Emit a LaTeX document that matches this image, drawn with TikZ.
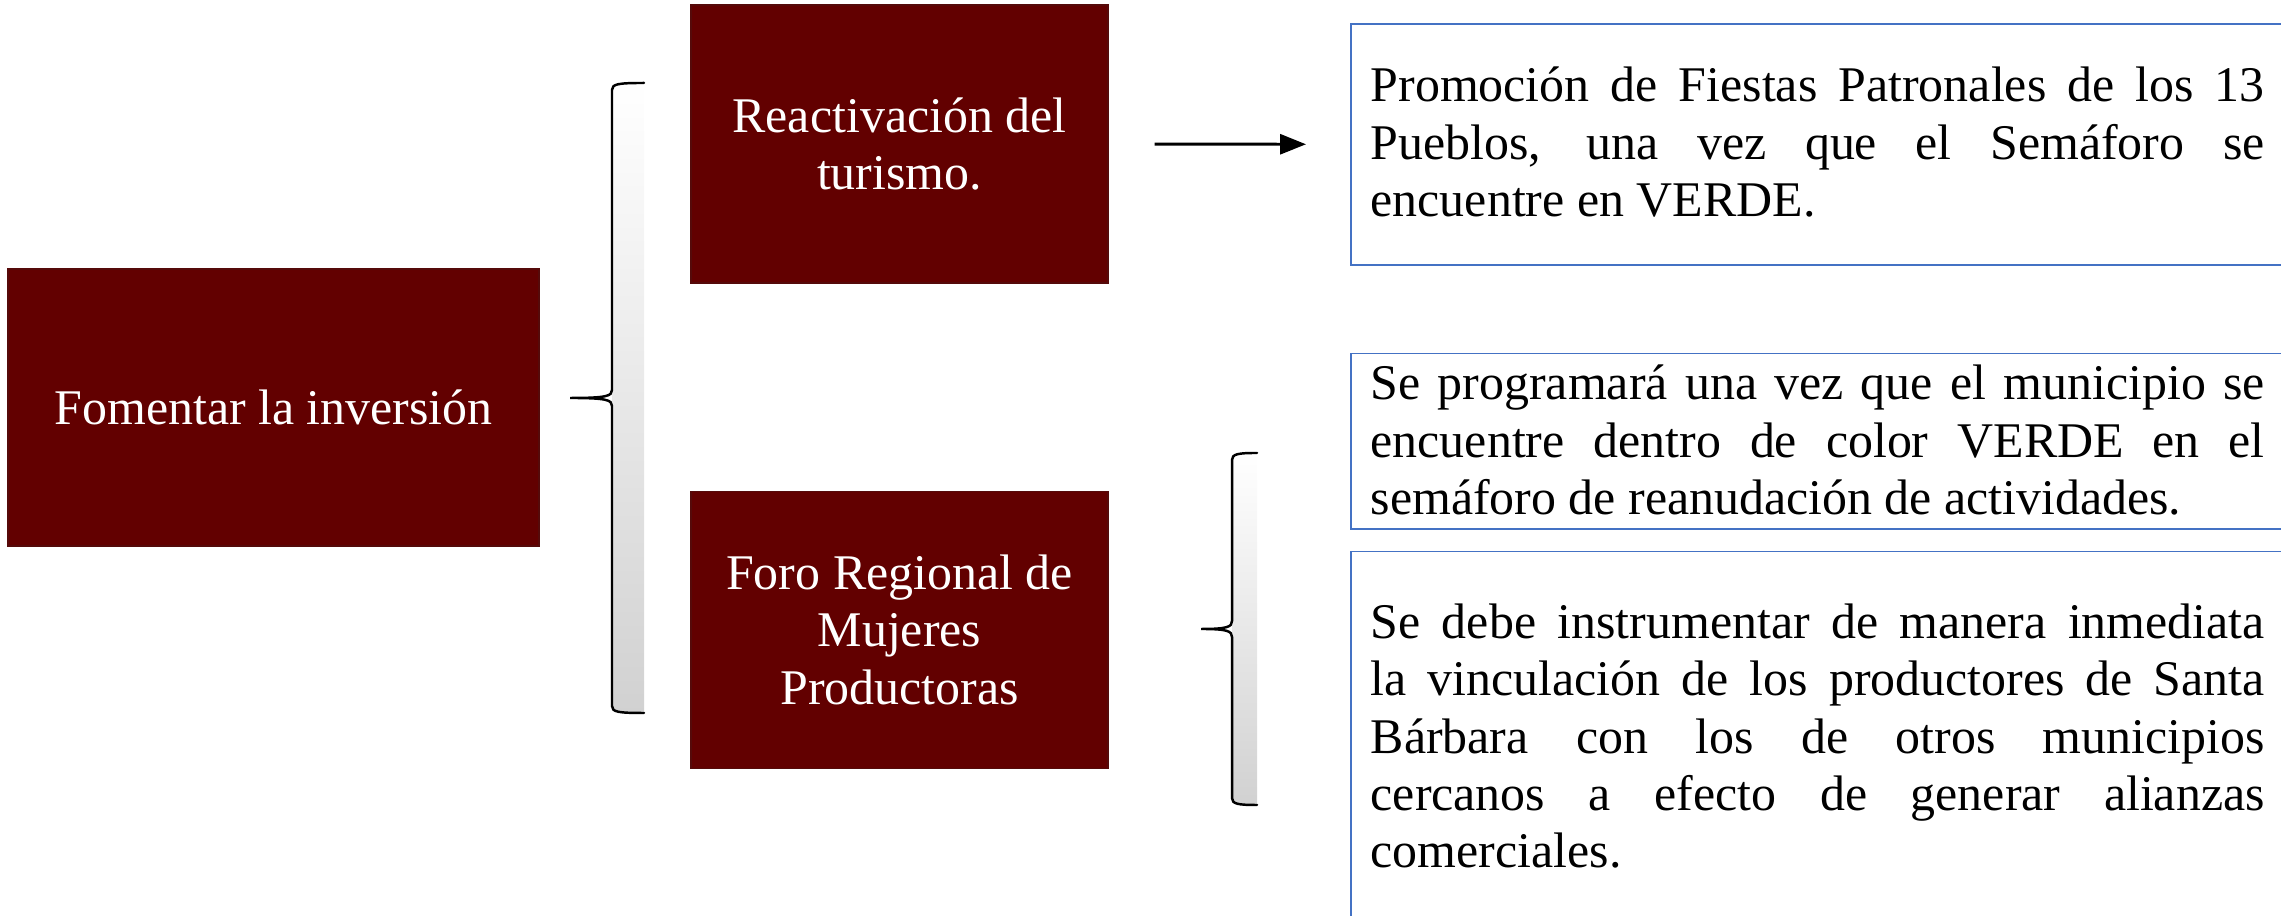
\documentclass[tikz,border=0pt]{standalone}
\usepackage{fontspec}
\setmainfont{Liberation Serif}
\usepackage{xcolor}
\definecolor{vino}{RGB}{98,0,0}
\definecolor{vino-borde}{RGB}{85,10,10}
\definecolor{azul-borde}{RGB}{68,114,196}
\usetikzlibrary{positioning, arrows.meta, calc}
\tolerance=10000
\hyphenpenalty=10000

% llave: x linea, x punta derecha, x punta izquierda, y arriba, y medio, y abajo
\newcommand{\llave}[6]{%
  \shade[sombra] (#2,#4) .. controls ({#1+0.06},#4) and (#1,{#4-0.01}) .. (#1,{#4-0.07})
    -- (#1,{#6+0.07}) .. controls (#1,{#6+0.01}) and ({#1+0.06},#6) .. (#2,#6) -- cycle;
  \draw[llave] (#2,#4) .. controls ({#1+0.06},#4) and (#1,{#4-0.01}) .. (#1,{#4-0.07})
    -- (#1,{#5+0.08}) .. controls (#1,{#5+0.02}) and ({#1-0.05},#5) .. (#3,#5)
    .. controls ({#1-0.05},#5) and (#1,{#5-0.02}) .. (#1,{#5-0.08})
    -- (#1,{#6+0.07}) .. controls (#1,{#6+0.01}) and ({#1+0.06},#6) .. (#2,#6);
}

\begin{document}
\begin{tikzpicture}[
    tema/.style={rectangle, draw=vino-borde, fill=vino, text=white, align=center, inner sep=0pt, font=\fontsize{14.2pt}{16.3pt}\selectfont},
    caja/.style={rectangle, draw=azul-borde, line width=0.5pt, minimum width=9.34cm, inner sep=0pt, anchor=north west},
    texto/.style={anchor=base west, text width=8.94cm, align=justify, inner sep=0pt, font=\fontsize{14.2pt}{16.3pt}\selectfont},
    arrow/.style={-{Triangle[length=0.26cm, width=0.2cm]}, line width=0.85pt},
    llave/.style={line width=0.7pt, line cap=round},
    sombra/.style={top color=white, bottom color=black!18, draw=none}
]
\useasboundingbox (0,0) rectangle (22.81,9.16);

% Temas
\node[tema, minimum width=5.31cm, minimum height=2.77cm] (fomentar) at (2.735,5.085) {Fomentar la inversión};
\node[tema, minimum width=4.17cm, minimum height=2.78cm] (react) at (8.995,7.72) {Reactivación del\\turismo.};
\node[tema, minimum width=4.17cm, minimum height=2.77cm, below=2.07cm of react] (foro) {Foro Regional de\\Mujeres\\Productoras};

% Llaves
\llave{6.12}{6.44}{5.70}{8.33}{5.18}{2.03}
\llave{12.32}{12.57}{12.01}{4.63}{2.87}{1.11}

% Cajas de texto
\node[caja, minimum height=2.41cm] (promo) at (13.50,8.93) {};
\node[caja, minimum height=1.75cm, below=0.87cm of promo] (progr) {};
\node[caja, minimum height=3.80cm, below=0.21cm of progr] (vinc) {};

\node[texto] (promotxt) at ([xshift=0.2cm, yshift=-0.79cm]promo.north west)
  {Promoción de Fiestas Patronales de los 13\linebreak Pueblos, una vez que el Semáforo se\linebreak encuentre en VERDE.};
\node[texto] (progrtxt) at ([xshift=0.2cm, yshift=-0.47cm]progr.north west)
  {Se programará una vez que el municipio se\linebreak encuentre dentro de color VERDE en el\linebreak semáforo de reanudación de actividades.};
\node[texto] (vinctxt) at ([xshift=0.2cm, yshift=-0.88cm]vinc.north west)
  {Se debe instrumentar de manera inmediata\linebreak la vinculación de los productores de Santa\linebreak Bárbara con los de otros municipios\linebreak cercanos a efecto de generar alianzas\linebreak comerciales.};

% Flecha
\draw[arrow, shorten <=0.46cm, shorten >=0.44cm] (react.east) -- (promo.west);

\end{tikzpicture}
\end{document}
